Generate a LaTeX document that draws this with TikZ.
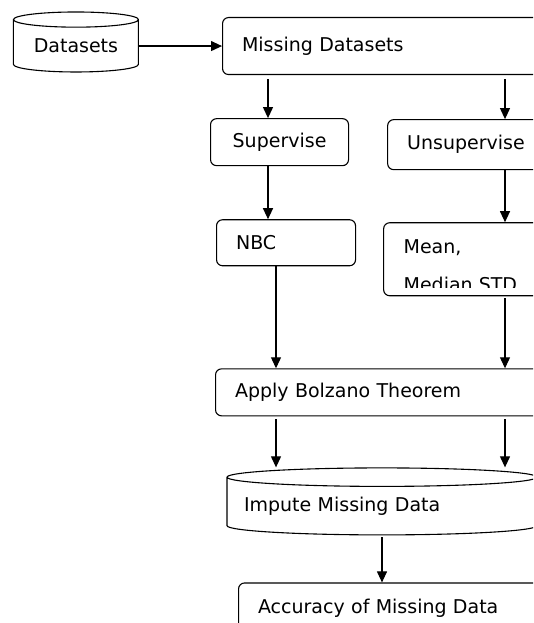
\documentclass[tikz,border=0pt]{standalone}
\usepackage{fontspec}
\setmainfont{DejaVu Sans}
\usetikzlibrary{arrows.meta,positioning,shapes.geometric}

\begin{document}
\begin{tikzpicture}[x=1pt,y=-1pt,>={Triangle[length=11pt,width=10pt]},line width=1.1pt,
  font=\fontsize{19}{23}\selectfont,
  stepbox/.style 2 args={draw,rounded corners=6pt,inner xsep=19.5pt,inner ysep=0pt,
    text width=#1,minimum height=#2,align=left},
  store/.style={cylinder,shape border rotate=90,draw,inner sep=0pt}]
  \useasboundingbox (0,0) rectangle (533,623);
  \clip (0,0) rectangle (533,623);

  \node[stepbox={301pt}{57pt},anchor=north west] (miss) at (222,17) {Missing Datasets};
  \node[store,aspect=0.18,minimum width=125pt,minimum height=60pt] (data) [left=83pt of miss] {Datasets};
  \node[stepbox={99pt}{47pt},align=center] (sup) [below right=43pt and -12pt of miss.south west] {Supervise};
  \node[stepbox={123pt}{50pt}] (unsup) [below right=1pt and 38pt of sup.north east] {Unsupervise};
  \node[stepbox={100pt}{46pt}] (nbc) [below right=53pt and 6pt of sup.south west] {NBC};
  \node[stepbox={127pt}{73pt}] (mean) [below right=52pt and -4pt of unsup.south west] {};
  \node[stepbox={301pt}{47pt}] (bolz) [below right=102pt and -1pt of nbc.south west] {Apply Bolzano Theorem};
  \node[store,aspect=0.067,minimum width=310pt,minimum height=67pt,text width=276pt,align=left] (imp)
    [below right=85pt and 167pt of bolz.south west,anchor=shape center] {Impute Missing Data};
  \node[stepbox={301pt}{50pt}] (acc) [below right=166pt and 23pt of bolz.south west] {Accuracy of Missing Data};

  % text of the mean box runs past its border
  \begin{scope}
    \clip (mean.north west) rectangle ([yshift=9pt]mean.south east);
    \node[anchor=base west,align=left,inner sep=0pt,font=\fontsize{19}{38}\selectfont] (meantxt)
      at ([xshift=20pt,yshift=-69pt]mean.north west) {Mean,\\Median STD};
  \end{scope}

  \coordinate (lc) at (268,0);
  \coordinate (mc) at (276,0);
  \coordinate (rc) at (505,0);

  \path[->] (data.east) edge (miss.west)
    (miss.south -| lc) edge[shorten <=4pt] (sup.north -| lc)
    (miss.south -| rc) edge[shorten <=4pt] (unsup.north -| rc)
    (sup.south -| lc) edge (nbc.north -| lc)
    (unsup.south -| rc) edge (mean.north -| rc)
    (nbc.south -| mc) edge (bolz.north -| mc)
    (mean.south -| rc) edge[shorten <=2pt] (bolz.north -| rc)
    (bolz.south -| mc) edge[shorten <=3pt] (imp.north -| mc)
    (bolz.south -| rc) edge[shorten <=3pt] (imp.north -| rc)
    (imp.south) edge[shorten <=2pt] (imp.south |- acc.north);
\end{tikzpicture}
\end{document}
